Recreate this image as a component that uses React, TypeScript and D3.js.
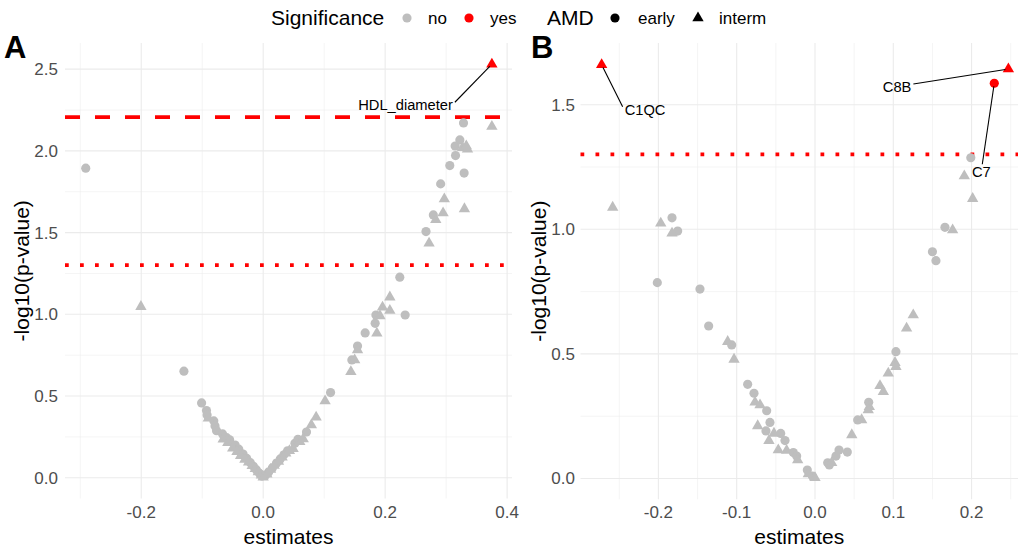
import React from "react";
import * as d3 from "d3";

// ---- data (estimate, -log10 p) ----
const aEarly: [number, number][] = [
  [-0.291, 1.894], [-0.130, 0.652],
  [-0.101, 0.458], [-0.093, 0.411], [-0.092, 0.384], [-0.081, 0.348], [-0.079, 0.317], [-0.0765, 0.288],
  [-0.0666, 0.268], [-0.060, 0.245], [-0.055, 0.232], [-0.046, 0.200], [-0.040, 0.175], [-0.033, 0.145],
  [-0.027, 0.118], [-0.021, 0.092], [-0.016, 0.070], [-0.011, 0.048], [-0.006, 0.026], [-0.002, 0.010],
  [0.004, 0.016], [0.009, 0.035], [0.015, 0.060], [0.022, 0.090], [0.028, 0.115], [0.034, 0.140],
  [0.040, 0.165], [0.052, 0.211], [0.057, 0.235], [0.071, 0.280], [0.1105, 0.521],
  [0.1454, 0.721], [0.1547, 0.806], [0.1672, 0.886], [0.1836, 0.945], [0.1848, 0.996], [0.2328, 0.996],
  [0.224, 1.227], [0.267, 1.506], [0.279, 1.608], [0.291, 1.798], [0.3295, 1.864], [0.306, 1.910],
  [0.3154, 1.971], [0.3148, 2.030], [0.3225, 2.067], [0.3285, 2.171],
];
const aInterm: [number, number][] = [
  [-0.2005, 1.047],
  [-0.090, 0.364], [-0.0656, 0.235], [-0.058, 0.215], [-0.050, 0.180], [-0.043, 0.160], [-0.037, 0.135],
  [-0.030, 0.112], [-0.024, 0.095], [-0.018, 0.073], [-0.013, 0.055], [-0.008, 0.035], [-0.003, 0.015],
  [0.000, 0.003], [0.006, 0.022], [0.012, 0.050], [0.018, 0.075], [0.025, 0.100], [0.031, 0.125],
  [0.037, 0.150], [0.043, 0.165], [0.049, 0.178], [0.060, 0.220], [0.0656, 0.238], [0.079, 0.323],
  [0.0868, 0.370], [0.1015, 0.469],
  [0.1438, 0.648], [0.150, 0.720], [0.1547, 0.782], [0.1864, 0.884], [0.1915, 0.990], [0.1957, 1.043],
  [0.2077, 1.023], [0.2077, 1.105], [0.272, 1.435], [0.283, 1.578], [0.295, 1.620], [0.297, 1.705],
  [0.330, 1.645], [0.327, 2.020], [0.335, 2.010], [0.333, 2.030], [0.375, 2.149],
];
const aSignif = [{ name: "HDL_diameter", est: 0.375, logp: 2.53, amd: "interm" }];

const bEarly: [number, number][] = [
  [-0.1826, 1.046], [-0.1754, 0.993], [-0.2014, 0.786], [-0.1469, 0.760], [-0.1358, 0.612], [-0.1064, 0.536],
  [-0.086, 0.378], [-0.0779, 0.342], [-0.0617, 0.272], [-0.0575, 0.225], [-0.0626, 0.191], [-0.0438, 0.181],
  [-0.0383, 0.152], [-0.0277, 0.104], [-0.0234, 0.090], [-0.0098, 0.034], [-0.0034, 0.010],
  [0.0162, 0.063], [0.0183, 0.054], [0.0268, 0.090], [0.0307, 0.114], [0.0413, 0.106], [0.0545, 0.235],
  [0.0686, 0.306], [0.1034, 0.509], [0.150, 0.910], [0.1545, 0.874], [0.166, 1.008], [0.199, 1.287],
];
const bInterm: [number, number][] = [
  [-0.2584, 1.088], [-0.197, 1.024], [-0.1826, 0.984], [-0.1115, 0.549], [-0.1034, 0.478], [-0.0766, 0.306],
  [-0.0702, 0.295], [-0.0732, 0.211], [-0.0524, 0.181], [-0.0588, 0.152], [-0.0469, 0.114], [-0.0362, 0.112],
  [-0.0221, 0.074], [-0.0085, 0.018], [0.000, 0.003],
  [0.0213, 0.063], [0.047, 0.175], [0.0596, 0.235], [0.0694, 0.288], [0.068, 0.275], [0.083, 0.372],
  [0.0873, 0.348], [0.0936, 0.422], [0.1022, 0.465], [0.1034, 0.449], [0.117, 0.603], [0.1255, 0.656],
  [0.1758, 0.997], [0.1907, 1.214], [0.2014, 1.123],
];
const bSignif = [
  { name: "C1QC", est: -0.2725, logp: 1.66, amd: "interm" },
  { name: "C8B", est: 0.247, logp: 1.643, amd: "interm" },
  { name: "C7", est: 0.229, logp: 1.586, amd: "early" },
];

const pThreshold = 1.301; // -log10(0.05)
const aStrictThreshold = 2.206;

const aXTicks = [-0.2, 0.0, 0.2, 0.4];
const aXMinor = [-0.3, -0.1, 0.1, 0.3];
const aYTicks = [0, 0.5, 1.0, 1.5, 2.0, 2.5];
const aYMinor = [0.25, 0.75, 1.25, 1.75, 2.25];
const bXTicks = [-0.2, -0.1, 0.0, 0.1, 0.2];
const bXMinor = [-0.25, -0.15, -0.05, 0.05, 0.15, 0.25];
const bYTicks = [0, 0.5, 1.0, 1.5];
const bYMinor = [0.25, 0.75, 1.25];

// label nudges in pixels (like ggrepel placement)
const labelPos: Record<string, { dx: number; dy: number; anchor: string }> = {
  HDL_diameter: { dx: -39, dy: 41, anchor: "end" },
  C1QC: { dx: 23, dy: 45, anchor: "start" },
  C8B: { dx: -97, dy: 18, anchor: "end" },
  C7: { dx: -13, dy: 89, anchor: "middle" },
};

const GREY = "#BEBEBE";
const RED = "#FF0000";
const FONT = "Liberation Sans, Arial, sans-serif";

const circlePath = d3.symbol(d3.symbolCircle, 66)()!;
const trianglePath = d3.symbol(d3.symbolTriangle, 56)()!;

function Panel(props: any) {
  const { tag, xDomain, xRange, yDomain, yRange, xTicks, xMinor, yTicks, yMinor,
    early, interm, signif, hlines, tagX, yTitleX, tickRight } = props;
  const x = d3.scaleLinear().domain(xDomain).range(xRange);
  const y = d3.scaleLinear().domain(yDomain).range(yRange);
  const [x0, x1] = xRange;
  const [yb, yt] = yRange;
  const fmt = (v: number) => d3.format(".1f")(v).replace("\u2212", "-");

  return (
    <g>
      {/* grid */}
      {yMinor.map((v: number) => (
        <line key={"ym" + v} x1={x0} x2={x1} y1={y(v)} y2={y(v)} stroke="#EBEBEB" strokeWidth={0.55} />
      ))}
      {xMinor.map((v: number) => (
        <line key={"xm" + v} x1={x(v)} x2={x(v)} y1={yb} y2={yt} stroke="#EBEBEB" strokeWidth={0.55} />
      ))}
      {yTicks.map((v: number) => (
        <line key={"y" + v} x1={x0} x2={x1} y1={y(v)} y2={y(v)} stroke="#EBEBEB" strokeWidth={1.1} />
      ))}
      {xTicks.map((v: number) => (
        <line key={"x" + v} x1={x(v)} x2={x(v)} y1={yb} y2={yt} stroke="#EBEBEB" strokeWidth={1.1} />
      ))}

      {/* axis labels */}
      {yTicks.map((v: number) => (
        <text key={"yt" + v} x={tickRight} y={y(v) + 6} textAnchor="end" fontSize={17} fill="#4D4D4D">
          {fmt(v)}
        </text>
      ))}
      {xTicks.map((v: number) => (
        <text key={"xt" + v} x={x(v)} y={518} textAnchor="middle" fontSize={17} fill="#4D4D4D">
          {fmt(v)}
        </text>
      ))}
      <text x={(x0 + x1) / 2} y={544} textAnchor="middle" fontSize={21} fill="#000">estimates</text>
      <text transform={`translate(${yTitleX},${(yb + yt) / 2}) rotate(-90)`} textAnchor="middle"
        fontSize={21} fill="#000">-log10(p-value)</text>
      <text x={tagX} y={58} fontSize={31} fontWeight="bold" fill="#000">{tag}</text>

      {/* threshold lines */}
      {hlines.map((h: any, i: number) => (
        <line key={"h" + i} x1={x0} x2={x1} y1={y(h.value)} y2={y(h.value)} stroke={RED}
          strokeWidth={3.75} strokeDasharray={h.dash} />
      ))}

      {/* points */}
      {early.map((d: [number, number], i: number) => (
        <path key={"e" + i} d={circlePath} transform={`translate(${x(d[0])},${y(d[1])})`} fill={GREY} />
      ))}
      {interm.map((d: [number, number], i: number) => (
        <path key={"t" + i} d={trianglePath} transform={`translate(${x(d[0])},${y(d[1])})`} fill={GREY} />
      ))}
      {signif.map((d: any) => (
        <path key={d.name} d={d.amd === "early" ? circlePath : trianglePath}
          transform={`translate(${x(d.est)},${y(d.logp)})`} fill={RED} />
      ))}

      {/* labels */}
      {signif.map((d: any) => {
        const px = x(d.est);
        const py = y(d.logp);
        const p = labelPos[d.name];
        const lx = px + p.dx;
        const ly = py + p.dy;
        const sx = p.anchor === "end" ? lx + 2 : p.anchor === "start" ? lx - 2 : lx + 1;
        const sy = p.anchor === "middle" ? ly - 8 : ly - 3;
        const ang = Math.atan2(py - sy, px - sx);
        const ex = px - Math.cos(ang) * 3;
        const ey = py - Math.sin(ang) * 3;
        return (
          <g key={"l" + d.name}>
            <line x1={sx} y1={sy} x2={ex} y2={ey} stroke="#000" strokeWidth={1.1} />
            <text x={lx} y={ly + 5} textAnchor={p.anchor} fontSize={14.7} fill="#000">{d.name}</text>
          </g>
        );
      })}
    </g>
  );
}

function Legend() {
  return (
    <g fontFamily={FONT}>
      <text x={271} y={25} fontSize={21}>Significance</text>
      <path d={circlePath} transform="translate(407,18)" fill={GREY} />
      <text x={428} y={24} fontSize={17}>no</text>
      <path d={circlePath} transform="translate(469,18)" fill={RED} />
      <text x={490} y={24} fontSize={17}>yes</text>
      <text x={547} y={25} fontSize={21}>AMD</text>
      <path d={circlePath} transform="translate(615,18)" fill="#000" />
      <text x={638} y={24} fontSize={17}>early</text>
      <path d={trianglePath} transform="translate(698,18)" fill="#000" />
      <text x={719} y={24} fontSize={17}>interm</text>
    </g>
  );
}

export default function App() {
  return (
    <div style={{ position: "absolute", left: 0, top: 0, width: 1018, height: 549, background: "#fff" }}>
      <svg width={1018} height={549} style={{ display: "block", fontFamily: FONT }}>
        <rect width={1018} height={549} fill="#fff" />
        <Legend />
        <Panel tag="A" tagX={4} yTitleX={29} tickRight={58}
          xDomain={[-0.325, 0.408]} xRange={[65, 512]}
          yDomain={[-0.127, 2.66]} yRange={[498.5, 43]}
          xTicks={aXTicks} xMinor={aXMinor} yTicks={aYTicks} yMinor={aYMinor}
          early={aEarly} interm={aInterm} signif={aSignif}
          hlines={[{ value: aStrictThreshold, dash: "15 15" }, { value: pThreshold, dash: "3.75 11.25" }]} />
        <Panel tag="B" tagX={531} yTitleX={546} tickRight={575}
          xDomain={[-0.2995, 0.2593]} xRange={[580.5, 1018]}
          yDomain={[-0.0835, 1.7476]} yRange={[499.3, 43]}
          xTicks={bXTicks} xMinor={bXMinor} yTicks={bYTicks} yMinor={bYMinor}
          early={bEarly} interm={bInterm} signif={bSignif}
          hlines={[{ value: pThreshold, dash: "3.75 11.25" }]} />
      </svg>
    </div>
  );
}
